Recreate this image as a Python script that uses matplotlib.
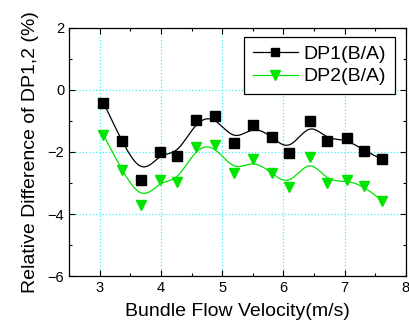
import numpy as np
import matplotlib
matplotlib.use("Agg")
import matplotlib.pyplot as plt
import matplotlib.ticker as tkr

plt.rcParams['font.family'] = ['Liberation Sans', 'DejaVu Sans']

velocity = [3.06, 3.36, 3.67, 3.99, 4.26, 4.58, 4.88, 5.20,
            5.50, 5.82, 6.10, 6.43, 6.72, 7.04, 7.32, 7.61]
dp1 = [-0.41, -1.65, -2.90, -1.99, -2.13, -0.97, -0.83, -1.70,
       -1.14, -1.51, -2.02, -0.99, -1.65, -1.54, -1.97, -2.23]
dp2 = [-1.45, -2.58, -3.71, -2.90, -2.98, -1.83, -1.77, -2.67,
       -2.24, -2.69, -3.12, -2.15, -2.99, -2.90, -3.09, -3.57]


def bspline(px, py, k=3, num=400):
    # clamped uniform B-spline using the data points as control points
    px = np.asarray(px, float)
    py = np.asarray(py, float)
    n = len(px)
    t = np.concatenate([np.zeros(k + 1), np.arange(1, n - k), np.full(k + 1, n - k)])
    u = np.linspace(0, n - k, num)
    m = len(t) - 1
    N = np.zeros((num, m))
    for i in range(m):
        N[:, i] = (t[i] <= u) & (u < t[i + 1])
    N[u >= t[-1], n - 1] = 1.0
    for d in range(1, k + 1):
        Nn = np.zeros((num, m - d))
        for i in range(m - d):
            a = t[i + d] - t[i]
            b = t[i + d + 1] - t[i + 1]
            left = (u - t[i]) / a * N[:, i] if a > 0 else 0
            right = (t[i + d + 1] - u) / b * N[:, i + 1] if b > 0 else 0
            Nn[:, i] = left + right
        N = Nn
    return N @ px, N @ py


green = '#00e400'

fig = plt.figure(figsize=(4.09, 3.26), dpi=100)
ax = fig.add_axes([0.169, 0.153, 0.823, 0.762])

ax.grid(True, which='major', color='#40f0f8', linestyle=':', linewidth=0.9)
ax.set_axisbelow(True)

x1, y1 = bspline(velocity, dp1)
x2, y2 = bspline(velocity, dp2)
ax.plot(x1, y1, color='black', lw=0.9)
ax.plot(x2, y2, color=green, lw=0.9)
ax.plot(velocity, dp1, 's', color='black', ms=6.8, ls='none')
ax.plot(velocity, dp2, 'v', color=green, ms=7.8, ls='none')

# legend handles
ax.plot([], [], '-s', color='black', lw=0.9, ms=5.5, label='DP1(B/A)')
ax.plot([], [], '-v', color=green, lw=0.9, ms=7.5, label='DP2(B/A)')
h, l = ax.get_legend_handles_labels()
leg = ax.legend(h, l, loc='upper right', bbox_to_anchor=(0.967, 0.964),
                borderaxespad=0, fancybox=False, framealpha=1, edgecolor='black',
                fontsize=14, handlelength=2.3, handletextpad=0.3,
                labelspacing=0.25, borderpad=0.45)
leg.get_frame().set_linewidth(0.9)

ax.set_xlim(2.5, 8)
ax.set_ylim(-6, 2)
ax.xaxis.set_major_locator(tkr.MultipleLocator(1))
ax.xaxis.set_minor_locator(tkr.MultipleLocator(0.5))
ax.yaxis.set_major_locator(tkr.MultipleLocator(2))
ax.yaxis.set_minor_locator(tkr.MultipleLocator(1))
ax.tick_params(which='both', direction='in', top=True, right=True, labelsize=10.5)
ax.tick_params(which='major', length=4, width=0.8)
ax.tick_params(which='minor', length=2.5, width=0.8)
for s in ax.spines.values():
    s.set_linewidth(0.9)

ax.set_xlabel('Bundle Flow Velocity(m/s)', fontsize=14, labelpad=6)
ax.set_ylabel('Relative Difference of DP1,2 (%)', fontsize=14, labelpad=6)

fig.savefig('out.png', dpi=100)
